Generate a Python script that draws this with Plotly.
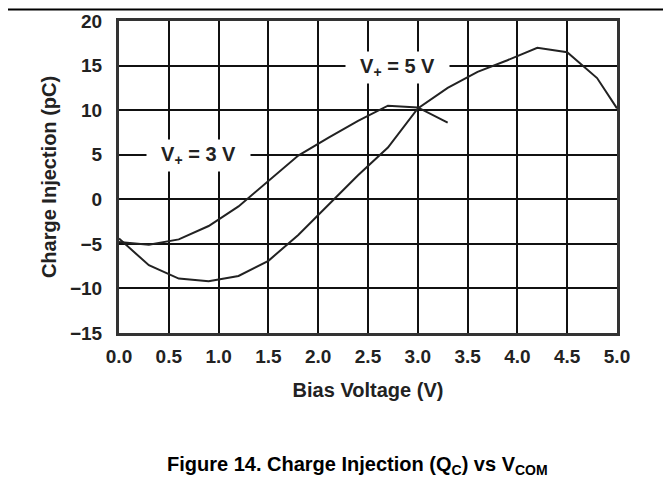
import plotly.graph_objects as go

# Data
bias_3v = [0.0, 0.3, 0.6, 0.9, 1.2, 1.5, 1.8, 2.1, 2.4, 2.7, 3.0, 3.3]
q_3v = [-4.8, -5.1, -4.5, -3.0, -0.8, 2.0, 4.9, 6.9, 8.8, 10.5, 10.3, 8.6]

bias_5v = [0.0, 0.3, 0.6, 0.9, 1.2, 1.5, 1.8, 2.1, 2.4, 2.7, 3.0, 3.3, 3.6, 3.9, 4.2, 4.5, 4.8, 5.0]
q_5v = [-4.4, -7.4, -8.9, -9.2, -8.6, -6.9, -4.0, -0.6, 2.7, 5.8, 10.2, 12.5, 14.3, 15.6, 17.0, 16.5, 13.6, 10.2]

x_ticks = [0.0, 0.5, 1.0, 1.5, 2.0, 2.5, 3.0, 3.5, 4.0, 4.5, 5.0]
y_ticks = [-15, -10, -5, 0, 5, 10, 15, 20]

FONT = "Liberation Sans, Arial, sans-serif"
INK = "#222222"

fig = go.Figure()
fig.add_trace(go.Scatter(x=bias_3v, y=q_3v, mode="lines", name="V+ = 3 V",
                         line=dict(color=INK, width=2)))
fig.add_trace(go.Scatter(x=bias_5v, y=q_5v, mode="lines", name="V+ = 5 V",
                         line=dict(color=INK, width=2)))

axis_common = dict(
    showgrid=True, gridcolor="#111111", gridwidth=1.5,
    showline=True, linecolor="#333333", linewidth=3, mirror=True,
    zeroline=False, ticks="", automargin=False,
    tickfont=dict(family=FONT, size=19, color=INK, weight="bold"),
)

fig.update_xaxes(range=[0, 5], tickvals=x_ticks, tickformat=".1f", ticklabelstandoff=4,
                 title=dict(text="<b>Bias Voltage (V)</b>", font=dict(family=FONT, size=20, color=INK), standoff=18),
                 **axis_common)
fig.update_yaxes(range=[-15, 20], tickvals=y_ticks, ticklabelstandoff=10,
                 title=dict(text="<b>Charge Injection (pC)</b>", font=dict(family=FONT, size=20, color=INK), standoff=8),
                 **axis_common)

fig.add_annotation(x=2.8, y=14.8, xref="x", yref="y",
                   text="<b>&nbsp;&nbsp;V<sub>+</sub> = 5 V&nbsp;&nbsp;</b>", showarrow=False,
                   font=dict(family=FONT, size=20, color=INK), bgcolor="white", borderpad=3)
fig.add_annotation(x=0.8, y=4.9, xref="x", yref="y",
                   text="<b>&nbsp;&nbsp;V<sub>+</sub> = 3 V&nbsp;&nbsp;</b>", showarrow=False,
                   font=dict(family=FONT, size=20, color=INK), bgcolor="white", borderpad=3)

fig.add_annotation(x=(357 - 119) / 498, y=-(465 - 333) / 312, xref="paper", yref="paper",
                   text="<b>Figure 14. Charge Injection (Q<sub>C</sub>) vs V<sub>COM</sub></b>",
                   showarrow=False, xanchor="center", yanchor="middle",
                   font=dict(family=FONT, size=20, color="black"))

fig.add_shape(type="line", xref="paper", yref="paper",
              x0=-0.3, x1=1.2, y0=(333 - 9.5) / 312, y1=(333 - 9.5) / 312,
              line=dict(color="black", width=2))

fig.update_layout(
    width=671, height=487,
    margin=dict(l=111, r=62, t=13, b=162, autoexpand=False),
    paper_bgcolor="white", plot_bgcolor="white",
    showlegend=False,
    font=dict(family=FONT, color=INK),
)

fig.write_html("out.html")
